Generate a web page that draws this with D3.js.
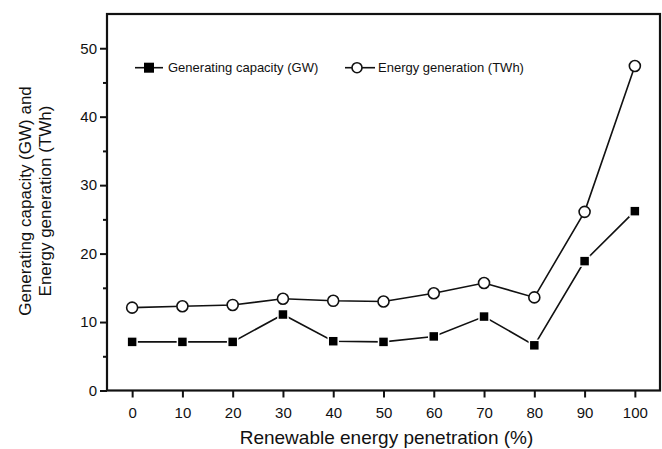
<!DOCTYPE html>
<html>
<head>
<meta charset="utf-8">
<script src="https://cdn.jsdelivr.net/npm/d3@7"></script>
<style>
    body { margin: 0; background: #fff; }
    text { font-family: "Liberation Sans", Arial, sans-serif; fill: #111; }
</style>
</head>
<body>
<script>
// chart data
var penetration = [0, 10, 20, 30, 40, 50, 60, 70, 80, 90, 100];  // x categories (%)
var capacityGW = [7.1, 7.1, 7.1, 11.1, 7.2, 7.1, 7.9, 10.8, 6.6, 18.9, 26.2];
var generationTWh = [12.1, 12.3, 12.5, 13.4, 13.1, 13.0, 14.2, 15.7, 13.6, 26.1, 47.4];
var xTicks = [0, 10, 20, 30, 40, 50, 60, 70, 80, 90, 100];
var yTicks = [0, 10, 20, 30, 40, 50];
var yMinorTicks = [5, 15, 25, 35, 45];
var seriesNames = ["Generating capacity (GW)", "Energy generation (TWh)"];

window.onload = function(){
    var w = 662, h = 449;
    var left = 107, right = 660, top = 14, bottom = 390.5;

    var svg = d3.select("body")
        .append("svg")
        .attr("width", w)
        .attr("height", h);

    var x = d3.scaleLinear()   //x scale, padded 5 either side like the original
        .domain([-5, 105])
        .range([left, right]);

    var y = d3.scaleLinear()
        .domain([0, 55])
        .range([bottom, top]);

    // x axis
    var xAxis = svg.append("g")
        .attr("transform", "translate(0," + bottom + ")")
        .call(d3.axisBottom(x).tickValues(xTicks).tickSize(7).tickPadding(10));
    xAxis.select(".domain").remove();
    xAxis.selectAll("line").attr("stroke", "#111").attr("stroke-width", 2);
    xAxis.selectAll("text").style("font-size", "15px").attr("fill", "#111");

    // y axis
    var yAxis = svg.append("g")
        .attr("transform", "translate(" + left + ",0)")
        .call(d3.axisLeft(y).tickValues(yTicks).tickSize(7).tickPadding(3));
    yAxis.select(".domain").remove();
    yAxis.selectAll("line").attr("stroke", "#111").attr("stroke-width", 2);
    yAxis.selectAll("text").style("font-size", "15px").attr("fill", "#111");

    var yMinor = svg.append("g")   //minor ticks on y
        .attr("transform", "translate(" + left + ",0)")
        .call(d3.axisLeft(y).tickValues(yMinorTicks).tickSize(4).tickFormat(""));
    yMinor.select(".domain").remove();
    yMinor.selectAll("line").attr("stroke", "#111").attr("stroke-width", 2);

    // frame
    svg.append("rect")
        .attr("x", left)
        .attr("y", top)
        .attr("width", right - left)
        .attr("height", bottom - top)
        .attr("fill", "none")
        .attr("stroke", "#111")
        .attr("stroke-width", 2.2);

    // axis titles
    svg.append("text")
        .attr("x", (left + right) / 2 + 3)
        .attr("y", 444)
        .attr("text-anchor", "middle")
        .style("font-size", "19px")
        .text("Renewable energy penetration (%)");

    var yTitle = svg.append("text")
        .attr("transform", "translate(31,201) rotate(-90)")
        .attr("text-anchor", "middle")
        .style("font-size", "17px");
    yTitle.append("tspan")
        .attr("x", 0)
        .text("Generating capacity (GW) and");
    yTitle.append("tspan")
        .attr("x", 0)
        .attr("dy", 20)
        .text("Energy generation (TWh)");

    var line = d3.line()
        .x(function(d, i){ return x(penetration[i]); })
        .y(function(d){ return y(d); });

    // lines
    svg.append("path")
        .datum(capacityGW)
        .attr("d", line)
        .attr("fill", "none")
        .attr("stroke", "#111")
        .attr("stroke-width", 1.6);

    svg.append("path")
        .datum(generationTWh)
        .attr("d", line)
        .attr("fill", "none")
        .attr("stroke", "#111")
        .attr("stroke-width", 1.6);

    // square markers
    svg.selectAll(".sq")
        .data(capacityGW)
        .enter()
        .append("rect")
        .attr("class", "sq")
        .attr("x", function(d, i){ return x(penetration[i]) - 5; })
        .attr("y", function(d){ return y(d) - 5; })
        .attr("width", 10)
        .attr("height", 10)
        .attr("fill", "#000")
        .attr("stroke", "#fff")
        .attr("stroke-width", 1.5);

    // circle markers
    svg.selectAll(".circ")
        .data(generationTWh)
        .enter()
        .append("circle")
        .attr("class", "circ")
        .attr("cx", function(d, i){ return x(penetration[i]); })
        .attr("cy", function(d){ return y(d); })
        .attr("r", 5.5)
        .attr("fill", "#fff")
        .attr("stroke", "#111")
        .attr("stroke-width", 1.6);

    // legend
    var legY = 67.7;
    svg.append("line")
        .attr("x1", 135).attr("x2", 163)
        .attr("y1", legY).attr("y2", legY)
        .attr("stroke", "#111").attr("stroke-width", 1.6);
    svg.append("rect")
        .attr("x", 144).attr("y", legY - 5)
        .attr("width", 10).attr("height", 10)
        .attr("fill", "#000");
    svg.append("text")
        .attr("x", 168).attr("y", legY + 4.5)
        .style("font-size", "13px")
        .text(seriesNames[0]);

    svg.append("line")
        .attr("x1", 345).attr("x2", 375)
        .attr("y1", legY).attr("y2", legY)
        .attr("stroke", "#111").attr("stroke-width", 1.6);
    svg.append("circle")
        .attr("cx", 357).attr("cy", legY)
        .attr("r", 5)
        .attr("fill", "#fff")
        .attr("stroke", "#111")
        .attr("stroke-width", 1.6);
    svg.append("text")
        .attr("x", 378).attr("y", legY + 4.5)
        .style("font-size", "13px")
        .text(seriesNames[1]);
};
</script>
</body>
</html>
